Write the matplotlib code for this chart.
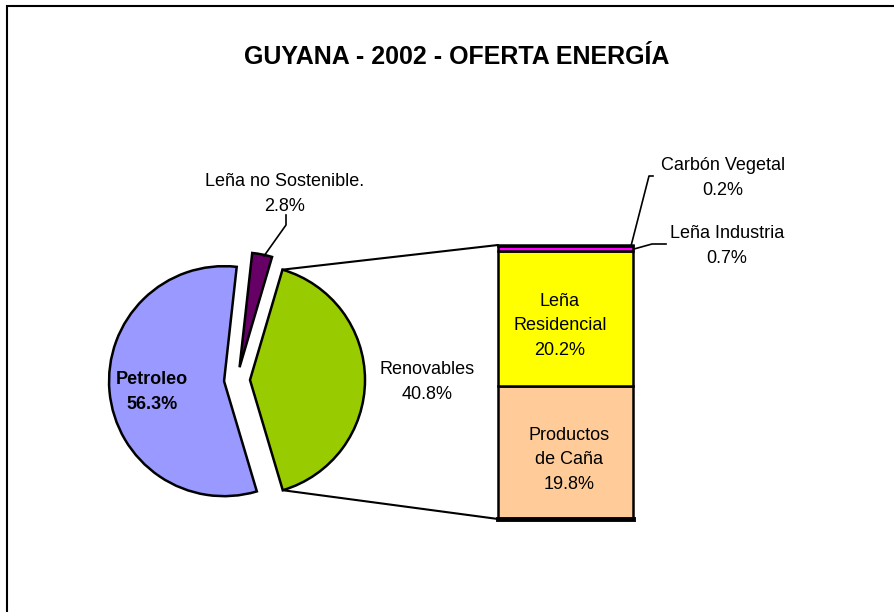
import numpy as np
import matplotlib
matplotlib.use('Agg')
import matplotlib.pyplot as plt
from matplotlib.patches import ConnectionPatch, Rectangle

plt.rcParams['font.family'] = ['Liberation Sans', 'DejaVu Sans']

# %% data
pie_labels = ['Renovables', 'Leña no Sostenible.', 'Petroleo']
pie_values = [40.8, 2.8, 56.3]
pie_colors = ['#99CC00', '#660066', '#9999FF']

bar_labels = ['Productos\nde Caña', 'Leña\nResidencial', 'Leña Industria', 'Carbón Vegetal']
bar_values = [19.8, 20.2, 0.7, 0.2]
bar_colors = ['#FFCC99', '#FFFF00', '#FF00FF', '#800080']

title = 'GUYANA - 2002 - OFERTA ENERGÍA'

W, H = 895, 612


def Y(y):
    # pixel row -> data y (axes go bottom up)
    return H - y


fig = plt.figure(figsize=(W / 100, H / 100), dpi=100)
ax = fig.add_axes([0, 0, 1, 1])

# pie, Renovables centered on the right side
start = -pie_values[0] / 2 * 3.6
wedges, _ = ax.pie(pie_values, colors=pie_colors, explode=[13, 13, 13],
                   center=(237, Y(380)), radius=115, startangle=start,
                   counterclock=True,
                   wedgeprops=dict(edgecolor='black', linewidth=1.8))
ax.set_xlim(0, W)
ax.set_ylim(0, H)
ax.set_aspect('equal')
ax.axis('off')

# bar of pie
axb = fig.add_axes([498 / W, 1 - 519 / H, 135 / W, 274 / H])
bottom = 0
for v, c in zip(bar_values, bar_colors):
    axb.bar(0, v, width=1, bottom=bottom, color=c, edgecolor='black',
            linewidth=1.8, clip_on=False)
    bottom += v
total = bottom
axb.set_xlim(-0.5, 0.5)
axb.set_ylim(0, total)
axb.axis('off')
axb.plot([-0.5, 0.5], [0, 0], color='black', lw=3.5, clip_on=False)

# lines from the Renovables wedge to the bar
w = wedges[0]
cx, cy = w.center
for th, yb in [(w.theta2, total), (w.theta1, 0)]:
    p = (cx + w.r * np.cos(np.radians(th)), cy + w.r * np.sin(np.radians(th)))
    con = ConnectionPatch(xyA=p, coordsA=ax.transData, xyB=(-0.5, yb),
                          coordsB=axb.transData, color='black', lw=1.5)
    fig.add_artist(con)

fs = 13
ls = 1.55
# pie labels
ax.text(152, Y(392), '%s\n%.1f%%' % (pie_labels[2], pie_values[2]), ha='center',
        va='center', fontsize=fs, fontweight='bold', linespacing=ls)
ax.text(427, Y(382), '%s\n%.1f%%' % (pie_labels[0], pie_values[0]), ha='center',
        va='center', fontsize=fs, linespacing=ls)
ax.text(285, Y(194), '%s\n%.1f%%' % (pie_labels[1], pie_values[1]), ha='center',
        va='center', fontsize=fs, linespacing=ls)
ax.plot([286, 286, 264], [Y(215), Y(225), Y(256)], color='black', lw=1.2)

# bar labels (inside the bar, drawn on the bar axes so they sit on top)
axb.text(569, Y(460), '%s\n%.1f%%' % (bar_labels[0], bar_values[0]), ha='center',
         va='center', fontsize=fs, linespacing=ls, transform=ax.transData)
axb.text(560, Y(326), '%s\n%.1f%%' % (bar_labels[1], bar_values[1]), ha='center',
         va='center', fontsize=fs, linespacing=ls, transform=ax.transData)
ax.text(727, Y(246), '%s\n%.1f%%' % (bar_labels[2], bar_values[2]), ha='center',
        va='center', fontsize=fs, linespacing=ls)
ax.text(723, Y(178), '%s\n%.1f%%' % (bar_labels[3], bar_values[3]), ha='center',
        va='center', fontsize=fs, linespacing=ls)
ax.plot([666, 652, 634], [Y(244), Y(244), Y(249)], color='black', lw=1.2)
ax.plot([653, 649, 631], [Y(176), Y(176), Y(246)], color='black', lw=1.2)

ax.text(457, Y(57), title, ha='center', va='center', fontsize=18, fontweight='bold')

# chart area border
fig.add_artist(Rectangle((7 / W, -0.05), 1.2, 1 - 6 / H + 0.05, transform=fig.transFigure,
                         fill=False, edgecolor='black', lw=1.5))

fig.savefig('out.png', dpi=100)
